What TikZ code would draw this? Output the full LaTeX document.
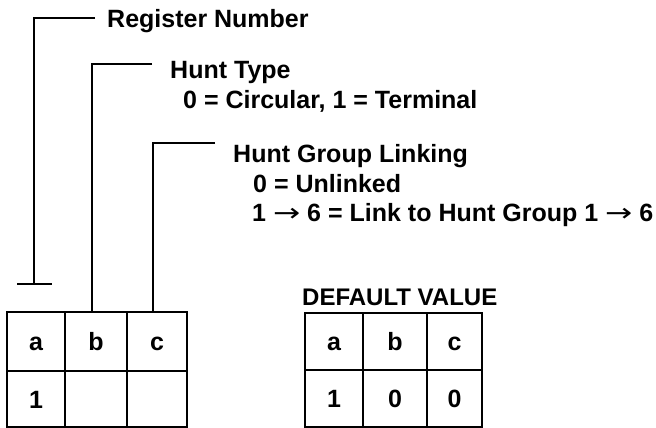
\documentclass[tikz,border=0pt]{standalone}
\usepackage{fontspec}
\setmainfont{Liberation Sans}
\newfontfamily\arrowfont{DejaVu Sans}
\newcommand{\myarr}{{\arrowfont\mdseries\scalebox{1.3}[1]{→}}}
\begin{document}
\begin{tikzpicture}[x=1pt,y=1pt,
  lbl/.style={anchor=base west,inner sep=0pt,font=\fontsize{25}{30}\selectfont\bfseries},
  cell/.style={draw,line width=2.8pt,inner sep=0pt,minimum height=#1,
     text height=18pt,text depth=-3pt,font=\fontsize{25}{30}\selectfont\bfseries},
  conn/.style={line width=2.8pt}]
\useasboundingbox (0,0) rectangle (656,-428);
% labels
\node[lbl] (reg) at (107,-28) {Register Number};
\node[lbl] (ht) at (170,-78) {Hunt Type};
\node[lbl] (htv) at (183,-108) {0 = Circular, 1 = Terminal};
\node[lbl] (hg) at (233,-162) {Hunt Group Linking};
\node[lbl] (hga) at (253,-192) {0 = Unlinked};
\node[lbl] (hgb) at (252,-221) {1 \myarr{} 6 = Link to Hunt Group 1 \myarr{} 6};
\node[lbl,font=\fontsize{24}{29}\selectfont\bfseries] (dv) at (302,-305) {DEFAULT VALUE};
% left table
\node[cell=59pt,minimum width=58pt] (la) at (36,-341.5) {a};
\node[cell=59pt,minimum width=62pt] (lb) at (96,-341.5) {b};
\node[cell=59pt,minimum width=60pt] (lc) at (157,-341.5) {c};
\node[cell=56pt,minimum width=58pt] (l1) at (36,-399) {1};
\node[cell=56pt,minimum width=62pt] (l2) at (96,-399) {};
\node[cell=56pt,minimum width=60pt] (l3) at (157,-399) {};
% right table
\node[cell=57pt,minimum width=58pt] (ra) at (334,-341.5) {a};
\node[cell=57pt,minimum width=64pt] (rb) at (395,-341.5) {b};
\node[cell=57pt,minimum width=55pt] (rc) at (454.5,-341.5) {c};
\node[cell=57pt,minimum width=58pt] (r1) at (334,-398.5) {1};
\node[cell=57pt,minimum width=64pt] (r2) at (395,-398.5) {0};
\node[cell=57pt,minimum width=55pt] (r3) at (454.5,-398.5) {0};
% connectors
\coordinate (regc) at (95,-18);
\coordinate (regend) at (34,-284);
\coordinate (htc) at (152,-64);
\coordinate (hgc) at (215,-143);
\draw[conn] (regc) -| (regend);
\draw[conn] ([xshift=-17pt]regend) -- ([xshift=18pt]regend);
\draw[conn] (htc) -| ([xshift=-4pt]lb.north);
\draw[conn] (hgc) -| ([xshift=-4pt]lc.north);
\end{tikzpicture}
\end{document}
